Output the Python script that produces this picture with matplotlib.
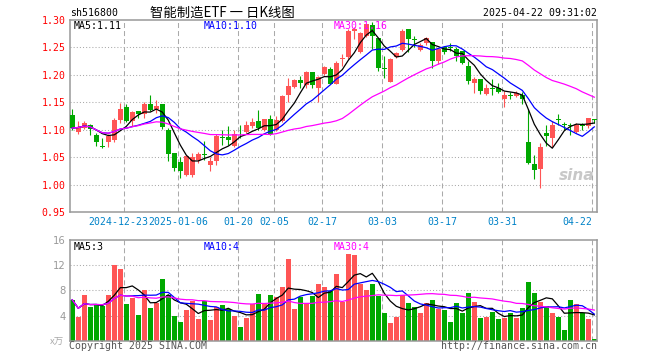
import matplotlib
matplotlib.use('Agg')
import matplotlib.pyplot as plt
import matplotlib.transforms as mtransforms
import numpy as np
import pandas as pd

# ---------------- data ----------------
opens = [1.1276, 1.0951, 1.1030, 1.1090, 1.0910, 1.0712, 1.0767, 1.0816, 1.1180, 1.1417,
         1.1153, 1.1337, 1.1294, 1.1460, 1.1380, 1.1460, 1.0988, 1.0583, 1.0412, 1.0173,
         1.0173, 1.0449, 1.0547, 1.0357, 1.0436, 1.0865, 1.0859, 1.0706, 1.0926, 1.0957,
         1.1074, 1.1153, 1.1000, 1.1202, 1.1000, 1.1153, 1.1631, 1.1778, 1.1900, 1.1815,
         1.2054, 1.1766, 1.2011, 1.2115, 1.1840, 1.2290, 1.2317, 1.2800, 1.2409, 1.2716,
         1.2912, 1.2673, 1.2120, 1.1876, 1.2317, 1.2458, 1.2838, 1.2642, 1.2458, 1.2575,
         1.2593, 1.2256, 1.2501, 1.2507, 1.2470, 1.2428, 1.2164, 1.1846, 1.1919, 1.1643,
         1.1760, 1.1766, 1.1551, 1.1631, 1.1613, 1.1625, 1.0767, 1.0375, 1.0283, 1.0939,
         1.0847, 1.1184, 1.1098, 1.1080, 1.0957, 1.1080, 1.1074, 1.1190]
highs = [1.1380, 1.1153, 1.1150, 1.1110, 1.0940, 1.0847, 1.0926, 1.1214, 1.1478, 1.1460,
         1.1340, 1.1350, 1.1510, 1.1625, 1.1550, 1.1460, 1.1030, 1.0583, 1.0510, 1.0522,
         1.0583, 1.0602, 1.0786, 1.0510, 1.0920, 1.1000, 1.1074, 1.1000, 1.1092, 1.1153,
         1.1214, 1.1368, 1.1202, 1.1263, 1.1245, 1.1631, 1.1938, 1.1919, 1.1980, 1.2072,
         1.2054, 1.1980, 1.2164, 1.2146, 1.2255, 1.2379, 1.2838, 1.2875, 1.2777, 1.2930,
         1.2960, 1.2673, 1.2348, 1.2300, 1.2410, 1.2838, 1.2838, 1.2716, 1.2575, 1.2697,
         1.2593, 1.2470, 1.2530, 1.2575, 1.2501, 1.2440, 1.2244, 1.1962, 1.1919, 1.1827,
         1.1919, 1.1858, 1.1705, 1.1692, 1.1705, 1.1692, 1.1386, 1.0540, 1.0755, 1.1092,
         1.1153, 1.1288, 1.1141, 1.1123, 1.1123, 1.1123, 1.1214, 1.1202]
lows = [1.1000, 1.0926, 1.1010, 1.0910, 1.0710, 1.0663, 1.0681, 1.0767, 1.1123, 1.1135,
        1.1060, 1.1214, 1.1214, 1.1337, 1.1306, 1.1010, 1.0436, 1.0246, 1.0112, 1.0154,
        1.0142, 1.0400, 1.0449, 1.0252, 1.0357, 1.0724, 1.0724, 1.0694, 1.0847, 1.0939,
        1.1031, 1.1000, 1.0970, 1.0908, 1.0970, 1.1141, 1.1509, 1.1766, 1.1766, 1.1766,
        1.1766, 1.1509, 1.1999, 1.1840, 1.1828, 1.2164, 1.2287, 1.2654, 1.2391, 1.2697,
        1.2470, 1.2072, 1.1950, 1.1870, 1.2305, 1.2440, 1.2409, 1.2501, 1.2440, 1.2550,
        1.2134, 1.2195, 1.2379, 1.2440, 1.2256, 1.2195, 1.1827, 1.1662, 1.1643, 1.1625,
        1.1625, 1.1662, 1.1410, 1.1551, 1.1594, 1.1472, 1.0369, 1.0093, 0.9940, 1.0712,
        1.0694, 1.1092, 1.1000, 1.0908, 1.0939, 1.1000, 1.1031, 1.1123]
closes = [1.1031, 1.1049, 1.1120, 1.1010, 1.0770, 1.0694, 1.0877, 1.1184, 1.1380, 1.1165,
          1.1319, 1.1294, 1.1460, 1.1368, 1.1441, 1.1043, 1.0559, 1.0308, 1.0252, 1.0522,
          1.0510, 1.0559, 1.0534, 1.0436, 1.0877, 1.0853, 1.0804, 1.0920, 1.0914, 1.1080,
          1.1135, 1.1031, 1.1202, 1.0920, 1.1184, 1.1613, 1.1797, 1.1907, 1.1858, 1.2060,
          1.1815, 1.1962, 1.2146, 1.1840, 1.2225, 1.2305, 1.2808, 1.2838, 1.2759, 1.2918,
          1.2716, 1.2134, 1.2100, 1.2287, 1.2390, 1.2808, 1.2654, 1.2630, 1.2550, 1.2673,
          1.2256, 1.2470, 1.2409, 1.2495, 1.2348, 1.2225, 1.1888, 1.1919, 1.1705, 1.1754,
          1.1748, 1.1692, 1.1625, 1.1619, 1.1668, 1.1551, 1.0400, 1.0265, 1.0681, 1.0877,
          1.1092, 1.1172, 1.1086, 1.1067, 1.1092, 1.1061, 1.1214, 1.1178]
volumes = [6.49, 3.83, 7.29, 5.37, 5.80, 5.53, 7.29, 12.07, 11.44, 5.85,
           6.86, 4.10, 8.09, 5.21, 6.06, 9.84, 7.29, 3.99, 2.98, 4.89,
           6.28, 3.46, 6.28, 3.30, 5.43, 5.69, 5.05, 3.99, 2.23, 3.56,
           5.85, 7.45, 5.96, 7.29, 6.97, 8.56, 13.03, 5.10, 7.02, 6.01,
           7.13, 9.04, 8.56, 7.82, 10.64, 6.12, 13.83, 13.67, 9.04, 7.98,
           9.04, 7.18, 4.41, 2.87, 3.83, 7.23, 6.06, 5.43, 4.41, 6.06,
           6.54, 5.10, 4.89, 2.98, 6.06, 4.47, 7.50, 6.17, 3.67, 3.83,
           4.57, 3.51, 3.62, 4.41, 3.62, 5.27, 9.36, 7.61, 6.22, 5.59,
           4.47, 3.83, 1.70, 6.49, 5.85, 4.41, 3.46, 0.27]
tick_idx = [9, 18, 28, 34, 42, 52, 62, 72, 87]
tick_labels = ['2024-12-23', '2025-01-06', '01-20', '02-05', '02-17',
               '03-03', '03-17', '03-31', '04-22']
price_ticks = [0.95, 1.00, 1.05, 1.10, 1.15, 1.20, 1.25, 1.30]
vol_ticks = [4, 8, 12, 16]

# ---------------- style ----------------
RED = '#FF5555'
GREEN = '#00A800'
GRID = '#AAAAAA'
FRAME = '#999999'
MONO = 'DejaVu Sans Mono'
CJK = ['Noto Sans CJK SC', 'DejaVu Sans']
FS = 7.1

W, H = 660, 360
fig = plt.figure(figsize=(6.6, 3.6), dpi=100)
fig.patch.set_facecolor('white')


def box(l, t, r, b):
    return [l / W, 1 - b / H, (r - l) / W, (b - t) / H]


ax = fig.add_axes(box(70, 20, 597, 212))
axv = fig.add_axes(box(70, 240, 597, 340.7))

O = np.array(opens); Hh = np.array(highs); L = np.array(lows); C = np.array(closes)
V = np.array(volumes)
n = len(C)
x = np.arange(n)
up = C >= O
cols = np.where(up, RED, GREEN)

XL = (-0.38, 87.45)
for a in (ax, axv):
    a.set_xlim(*XL)
    for s in a.spines.values():
        s.set_color(FRAME)
        s.set_linewidth(1.1)
    a.tick_params(length=0)
    a.set_xticks([])

# grid lines
dot = (0, (1, 2))
dash = (0, (4.8, 2.9))
for p in price_ticks[1:-1]:
    ax.axhline(p, color=GRID, lw=0.75, ls=dot, zorder=0)
for vt in vol_ticks[:-1]:
    axv.axhline(vt, color=GRID, lw=0.75, ls=dot, zorder=0)
for i in tick_idx:
    ax.axvline(i - 0.3, color=GRID, lw=0.75, ls=dash, zorder=0)
    axv.axvline(i - 0.3, color=GRID, lw=0.75, ls=dash, zorder=0)

# candles
ax.vlines(x, L, Hh, colors=cols, lw=0.8, zorder=2)
ax.bar(x, np.maximum(np.abs(C - O), 0.0016), bottom=np.minimum(O, C),
       width=0.76, color=cols, linewidth=0, zorder=3)

# moving averages
cs = pd.Series(C)
ax.plot(x, cs.rolling(5, min_periods=1).mean(), color='black', lw=0.9, zorder=4)
ax.plot(x, cs.rolling(10, min_periods=1).mean(), color='#0000FF', lw=0.9, zorder=4)
ax.plot(x, cs.rolling(30, min_periods=1).mean(), color='#FF00FF', lw=0.9, zorder=4)

ax.set_ylim(0.95, 1.30)
ax.set_yticks(price_ticks)
ax.set_yticklabels(['%.2f' % p for p in price_ticks], color='#FF0000',
                   fontsize=FS, family=MONO)
ax.tick_params(axis='y', pad=3)

# volume
axv.bar(x, V, width=0.8, color=cols, linewidth=0, zorder=2)
vs = pd.Series(V)
axv.plot(x, vs.rolling(5, min_periods=1).mean(), color='black', lw=0.9, zorder=4)
axv.plot(x, vs.rolling(10, min_periods=1).mean(), color='#0000FF', lw=0.9, zorder=4)
axv.plot(x, vs.rolling(30, min_periods=1).mean(), color='#FF00FF', lw=0.9, zorder=4)
axv.set_ylim(0, 16)
axv.set_yticks(vol_ticks)
axv.set_yticklabels([str(v) for v in vol_ticks], color='#999999', fontsize=7.2,
                    family='DejaVu Sans')
axv.tick_params(axis='y', pad=3)

# date labels under the price panel
trans = mtransforms.blended_transform_factory(ax.transData, ax.transAxes)
DATEC = '#0082C8'
for k, (i, lab) in enumerate(zip(tick_idx, tick_labels)):
    xx = i - 0.3
    if k == 0:
        # tucked just left of the next label so the two do not collide
        xx = tick_idx[1] - 0.3 - 4.95
        ha = 'right'
    elif k == len(tick_idx) - 1:
        ha = 'right'
    else:
        ha = 'center'
    ax.text(xx, -9.7 / 192, lab, transform=trans, ha=ha, va='center',
            color=DATEC, fontsize=FS, family=MONO, clip_on=False, zorder=5)


def ftext(px, py, s, **kw):
    fig.text(px / W, 1 - py / H, s, **kw)


# header
ftext(70, 13, 'sh516800', ha='left', va='center', fontsize=FS, family=MONO, color='black')
ftext(150, 13, '智能制造ETF 一 日K线图', ha='left', va='center', fontsize=9.6,
      family=CJK, color='black')
ftext(597, 13, '2025-04-22 09:31:02', ha='right', va='center', fontsize=FS,
      family=MONO, color='black')

# MA legends
ftext(74, 26, 'MA5:1.11', ha='left', va='center', fontsize=FS, family=MONO, color='black')
ftext(204, 26, 'MA10:1.10', ha='left', va='center', fontsize=FS, family=MONO, color='#0000FF')
ftext(334, 26, 'MA30:1.16', ha='left', va='center', fontsize=FS, family=MONO, color='#FF00FF')
ftext(74, 247, 'MA5:3', ha='left', va='center', fontsize=FS, family=MONO, color='black')
ftext(204, 247, 'MA10:4', ha='left', va='center', fontsize=FS, family=MONO, color='#0000FF')
ftext(334, 247, 'MA30:4', ha='left', va='center', fontsize=FS, family=MONO, color='#FF00FF')

# footers
ftext(64, 341, 'x万', ha='right', va='center', fontsize=6.8, family=CJK, color='#AAAAAA')
ftext(69, 346, 'Copyright 2025 SINA.COM', ha='left', va='center', fontsize=FS,
      family=MONO, color='#555555')
ftext(597, 346, 'http://finance.sina.com.cn', ha='right', va='center', fontsize=FS,
      family=MONO, color='#555555')

# watermark
ftext(577, 176, 'sina', ha='center', va='center', fontsize=11, fontweight='bold',
      style='italic', color='#C8C8C8', family='DejaVu Sans')

fig.savefig('out.png', dpi=100, facecolor='white')
